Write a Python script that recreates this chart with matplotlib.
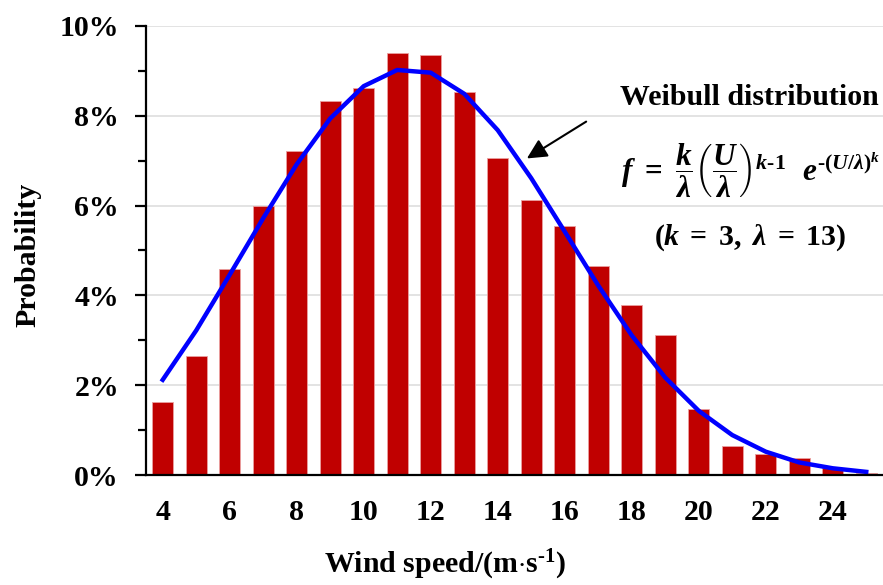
import matplotlib
matplotlib.use("Agg")
import matplotlib.pyplot as plt
from matplotlib.ticker import MultipleLocator, PercentFormatter

plt.rcParams['font.family'] = ['Liberation Serif', 'DejaVu Serif']
plt.rcParams['font.weight'] = 'bold'
plt.rcParams['mathtext.fontset'] = 'custom'
plt.rcParams['mathtext.rm'] = 'Liberation Serif:bold'
plt.rcParams['mathtext.it'] = 'Liberation Serif:italic:bold'
plt.rcParams['mathtext.bf'] = 'Liberation Serif:bold'

# measured wind speed frequency (%) per 1 m/s bin
wind_speed = list(range(4, 26))
measured = [1.63, 2.65, 4.59, 5.99, 7.21, 8.32, 8.62, 9.40, 9.36, 8.53, 7.06,
            6.12, 5.55, 4.65, 3.79, 3.11, 1.48, 0.65, 0.47, 0.37, 0.15, 0.05]
# fitted Weibull curve (%), k = 3, lambda = 13
weibull = [2.12, 3.22, 4.46, 5.72, 6.92, 7.94, 8.66, 9.02, 8.96, 8.49, 7.68,
           6.61, 5.42, 4.22, 3.11, 2.17, 1.43, 0.89, 0.52, 0.28, 0.15, 0.07]
x_ticks = list(range(4, 25, 2))

FS = 21.5

fig = plt.figure(figsize=(8.83, 5.85), dpi=100)
ax = fig.add_axes([0.1653, 0.188, 0.8347, 0.7676])

ax.bar(wind_speed, measured, width=0.63, color='#c00000',
       edgecolor='#eaa0a0', linewidth=0.6, zorder=2)
ax.plot(wind_speed, weibull, color='#0000ff', lw=3.2, zorder=3)

ax.set_xlim(3.5, 25.5)
ax.set_ylim(0, 10)
ax.set_xticks(x_ticks)
ax.yaxis.set_major_locator(MultipleLocator(2))
ax.yaxis.set_minor_locator(MultipleLocator(1))
ax.yaxis.set_major_formatter(PercentFormatter(xmax=100, decimals=0))
ax.grid(axis='y', which='major', color='#dedede', lw=1.2, zorder=0)

for s in ['top', 'right']:
    ax.spines[s].set_visible(False)
for s in ['left', 'bottom']:
    ax.spines[s].set_linewidth(1.6)
    ax.spines[s].set_zorder(4)

ax.tick_params(axis='y', which='major', length=8, width=1.6, pad=11.5,
               labelsize=FS, direction='out')
ax.tick_params(axis='y', which='minor', length=6, width=1.6, direction='out')
ax.tick_params(axis='x', length=0, pad=17.5, labelsize=FS)

ax.set_ylabel('Probability', fontsize=FS, fontweight='bold')
ax.yaxis.set_label_coords(-0.142, 0.49)
fig.text(445 / 883, 1 - 565 / 585, r'Wind speed/(m$\cdot$s$^{\text{-}1}$)',
         fontsize=FS, fontweight='bold', ha='center', va='center')

ax.text(21.5, 8.24, 'Weibull distribution', fontsize=FS, fontweight='bold',
        ha='center', va='baseline')
ax.text(21.55, 6.79,
        r'$f\ =\ \dfrac{k}{\lambda}\left(\dfrac{U}{\lambda}\right)^{k\text{-}1}\ \ e^{\text{-}(U/\lambda)^{k}}$',
        fontsize=FS + 1, ha='center', va='center')
ax.text(21.53, 5.28, r'$(k\;=\;3,\ \lambda\;=\;13)$', fontsize=FS,
        ha='center', va='center')
ax.annotate('', xy=(14.87, 7.05), xytext=(16.64, 7.87),
            arrowprops=dict(arrowstyle='-|>', color='black', lw=1.5,
                            mutation_scale=30, shrinkA=0, shrinkB=0))

fig.savefig('out.png', dpi=100)
